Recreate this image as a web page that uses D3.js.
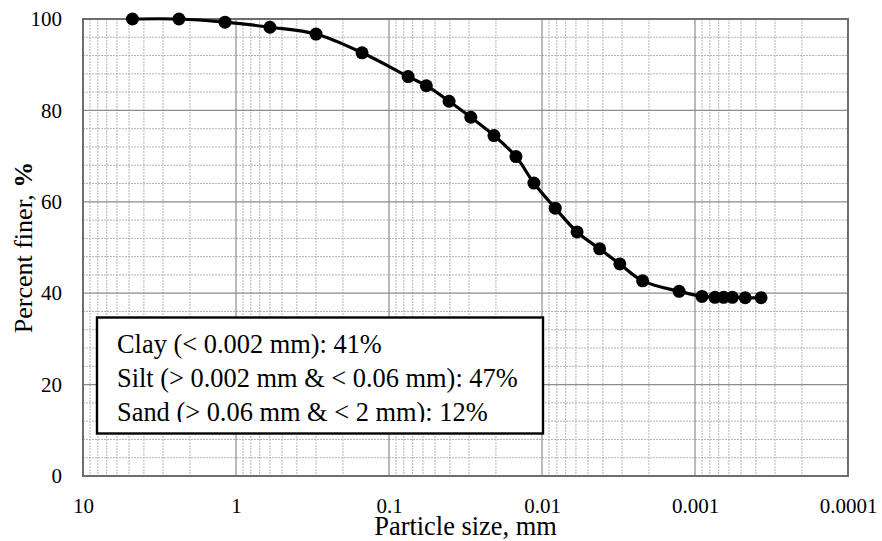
<!DOCTYPE html>
<html>
<head>
<meta charset="utf-8">
<script src="https://cdn.jsdelivr.net/npm/d3@7"></script>
<style>
  body { margin: 0; background: #fff; }
  svg text { font-family: "Liberation Serif", "Times New Roman", Times, serif; fill: #000; }
</style>
</head>
<body>
<script>
'use strict';

// particle size (mm) and percent finer
var sizes   = [4.75, 2.36, 1.18, 0.6, 0.3, 0.15, 0.075, 0.057, 0.0405, 0.0292,
               0.0206, 0.0148, 0.0113, 0.0082, 0.0059, 0.0042, 0.0031, 0.0022,
               0.00127, 0.0009, 0.00074, 0.00065, 0.00057, 0.00047, 0.00037];
var percent = [100, 100, 99.3, 98.2, 96.7, 92.6, 87.4, 85.4, 82.0, 78.5,
               74.5, 69.9, 64.1, 58.6, 53.4, 49.7, 46.4, 42.7,
               40.4, 39.3, 39.1, 39.1, 39.1, 39.0, 39.0];

var xTicks = [10, 1, 0.1, 0.01, 0.001, 0.0001];
var xTickLabels = ['10', '1', '0.1', '0.01', '0.001', '0.0001'];
var yTicks = [0, 20, 40, 60, 80, 100];

var boxLines = [
  'Clay (< 0.002 mm): 41%',
  'Silt (> 0.002 mm & < 0.06 mm): 47%',
  'Sand (> 0.06 mm & < 2 mm): 12%'
];

var width = 882,
    height = 541;
var plotLeft = 83, plotRight = 848, plotTop = 19, plotBottom = 476;

var svg = d3.select('body').append('svg')
    .attr('width', width)
    .attr('height', height);

var x = d3.scaleLog()
    .domain([10, 0.0001])
    .range([plotLeft, plotRight]);
var y = d3.scaleLinear()
    .domain([0, 100])
    .range([plotBottom, plotTop]);

// minor grid values: 2..9 in every decade
var minorX = [];
xTicks.slice(1).forEach(function(d) {
  for (var k = 2; k <= 9; k++) minorX.push(d * k);
});
var minorY = d3.range(4, 100, 4).filter(function(d) { return d % 20 !== 0; });

var grid = svg.append('g');
grid.selectAll('line.mx')
  .data(minorX)
  .enter().append('line')
    .attr('x1', function(d) { return x(d); })
    .attr('x2', function(d) { return x(d); })
    .attr('y1', plotTop)
    .attr('y2', plotBottom)
    .attr('stroke', '#b4b4b4')
    .attr('stroke-dasharray', '2,1');
grid.selectAll('line.my')
  .data(minorY)
  .enter().append('line')
    .attr('x1', plotLeft)
    .attr('x2', plotRight)
    .attr('y1', function(d) { return y(d); })
    .attr('y2', function(d) { return y(d); })
    .attr('stroke', '#b4b4b4')
    .attr('stroke-dasharray', '2,1');
grid.selectAll('line.Mx')
  .data(xTicks)
  .enter().append('line')
    .attr('x1', function(d) { return x(d); })
    .attr('x2', function(d) { return x(d); })
    .attr('y1', plotTop)
    .attr('y2', plotBottom)
    .attr('stroke', '#8c8c8c')
    .attr('stroke-width', 1.2);
grid.selectAll('line.My')
  .data(yTicks)
  .enter().append('line')
    .attr('x1', plotLeft)
    .attr('x2', plotRight)
    .attr('y1', function(d) { return y(d); })
    .attr('y2', function(d) { return y(d); })
    .attr('stroke', '#8c8c8c')
    .attr('stroke-width', 1.2);

svg.append('rect')
    .attr('x', plotLeft)
    .attr('y', plotTop)
    .attr('width', plotRight - plotLeft)
    .attr('height', plotBottom - plotTop)
    .attr('fill', 'none')
    .attr('stroke', '#6e6e6e')
    .attr('stroke-width', 2);

// axes (labels only, Excel style)
var xAxis = svg.append('g')
    .attr('transform', 'translate(0,' + plotBottom + ')')
    .call(d3.axisBottom(x)
      .tickValues(xTicks)
      .tickSize(0)
      .tickPadding(0)
      .tickFormat(function(d, i) { return xTickLabels[i]; }));
xAxis.attr('font-family', null).attr('font-size', null);
xAxis.select('.domain').remove();
xAxis.selectAll('text')
    .attr('y', 37)
    .attr('dy', null)
    .style('font-size', '21px');

var yAxis = svg.append('g')
    .attr('transform', 'translate(' + plotLeft + ',0)')
    .call(d3.axisLeft(y)
      .tickValues(yTicks)
      .tickSize(0)
      .tickPadding(21));
yAxis.attr('font-family', null).attr('font-size', null);
yAxis.select('.domain').remove();
yAxis.selectAll('text')
    .style('font-size', '21px');

svg.append('text')
    .attr('x', (plotLeft + plotRight) / 2)
    .attr('y', 535)
    .attr('text-anchor', 'middle')
    .style('font-size', '26.4px')
    .text('Particle size, mm');

var yTitle = svg.append('text')
    .attr('transform', 'translate(32,' + (plotTop + plotBottom) / 2 + ') rotate(-90)')
    .attr('text-anchor', 'middle')
    .style('font-size', '26px');
yTitle.append('tspan').text('Percent finer, ');
yTitle.append('tspan').style('font-weight', 'bold').text('%');

// grading curve
var points = sizes.map(function(d, i) { return {size: d, pct: percent[i]}; });

var line = d3.line()
    .x(function(d) { return x(d.size); })
    .y(function(d) { return y(d.pct); })
    .curve(d3.curveCatmullRom.alpha(0.5));

svg.append('path')
    .datum(points)
    .attr('d', line)
    .attr('fill', 'none')
    .attr('stroke', '#000')
    .attr('stroke-width', 3.2);

svg.selectAll('circle')
  .data(points)
  .enter().append('circle')
    .attr('cx', function(d) { return x(d.size); })
    .attr('cy', function(d) { return y(d.pct); })
    .attr('r', 6.5)
    .attr('fill', '#000');

// text box, last line is cut at its baseline like in the source
var box = svg.append('g');
box.append('rect')
    .attr('x', 97)
    .attr('y', 317.5)
    .attr('width', 446)
    .attr('height', 116)
    .attr('fill', '#fff')
    .attr('stroke', '#000')
    .attr('stroke-width', 2.4);

svg.append('clipPath')
    .attr('id', 'boxclip')
  .append('rect')
    .attr('x', 97)
    .attr('y', 318)
    .attr('width', 446)
    .attr('height', 104);

box.append('g')
    .attr('clip-path', 'url(#boxclip)')
  .selectAll('text')
  .data(boxLines)
  .enter().append('text')
    .attr('x', 117)
    .attr('y', function(d, i) { return 353 + i * 34; })
    .style('font-size', '26.4px')
    .text(function(d) { return d; });
</script>
</body>
</html>
